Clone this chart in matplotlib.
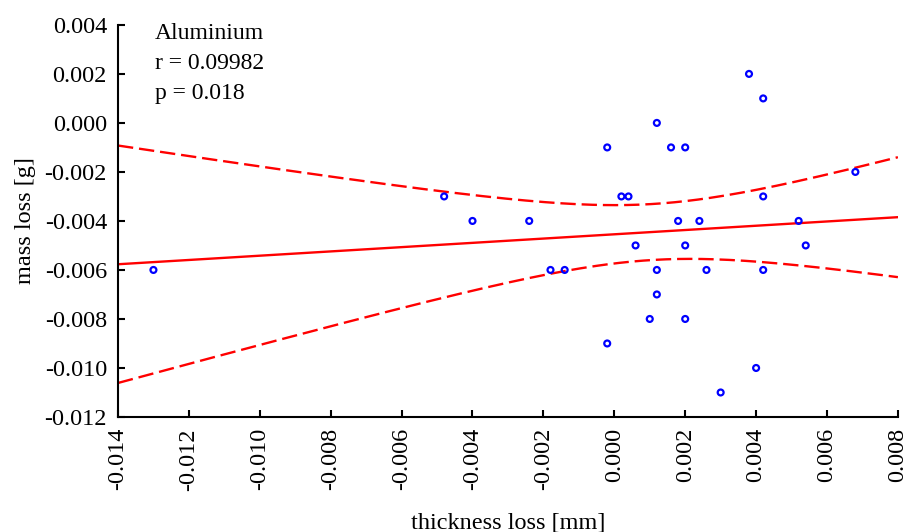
import matplotlib
matplotlib.use("Agg")
import matplotlib.pyplot as plt
import numpy as np

plt.rcParams['font.family'] = ['Liberation Serif', 'DejaVu Serif']

# thickness loss [mm] and mass loss [g]
thickness = [-0.013, -0.0048, -0.004, -0.0024, -0.0018, -0.0014, -0.0002, -0.0002,
             0.0002, 0.0004, 0.0006, 0.0012, 0.0012, 0.0012, 0.001, 0.0016,
             0.0018, 0.002, 0.002, 0.002, 0.0024, 0.0026, 0.003, 0.0038,
             0.004, 0.0042, 0.0042, 0.0042, 0.0052, 0.0054, 0.0068]
mass = [-0.006, -0.003, -0.004, -0.004, -0.006, -0.006, -0.001, -0.009,
        -0.003, -0.003, -0.005, 0.0, -0.006, -0.007, -0.008, -0.001,
        -0.004, -0.001, -0.005, -0.008, -0.004, -0.006, -0.011, 0.002,
        -0.010, 0.001, -0.003, -0.006, -0.004, -0.005, -0.002]

x = np.array(thickness)
y = np.array(mass)

# linear fit and 95% confidence band of the mean
n = len(x)
slope, intercept = np.polyfit(x, y, 1)
resid = y - (slope * x + intercept)
s = np.sqrt(np.sum(resid ** 2) / (n - 2))
sxx = np.sum((x - x.mean()) ** 2)
t = 2.045  # t(0.975, 29)

xs = np.linspace(-0.014, 0.008, 200)
ys = slope * xs + intercept
half = t * s * np.sqrt(1.0 / n + (xs - x.mean()) ** 2 / sxx)

fig = plt.figure(figsize=(9.09, 5.32), dpi=100)
ax = fig.add_axes([0.1298, 0.2162, 0.858, 0.737])

ax.plot(xs, ys, color='red', lw=1.7)
ax.plot(xs, ys + half, color='red', lw=1.7, ls=(0, (6.5, 2.5)))
ax.plot(xs, ys - half, color='red', lw=1.7, ls=(0, (6.5, 2.5)))
ax.scatter(x, y, s=18, facecolors='none', edgecolors='blue', linewidths=1.6, zorder=3)

ax.set_xlim(-0.014, 0.008)
ax.set_ylim(-0.012, 0.004)
ax.set_xticks(np.arange(-0.014, 0.0081, 0.002))
ax.set_yticks(np.arange(-0.012, 0.0041, 0.002))
ax.set_xticklabels([f"{v:.3f}" for v in np.arange(-0.014, 0.0081, 0.002)], rotation=90)
ax.set_yticklabels([f"{v:.3f}" for v in np.arange(-0.012, 0.0041, 0.002)])
ax.tick_params(direction='in', length=5, width=1.5, labelsize=17.5, pad=8)
for side in ['top', 'right']:
    ax.spines[side].set_visible(False)
for side in ['left', 'bottom']:
    ax.spines[side].set_linewidth(1.5)

ax.set_xlabel("thickness loss [mm]", fontsize=17.5, labelpad=16)
ax.set_ylabel("mass loss [g]", fontsize=17.5, labelpad=6)

ax.text(0.047, 1.005, "Aluminium\nr = 0.09982\np = 0.018", transform=ax.transAxes,
        fontsize=17, va='top', ha='left', linespacing=1.55)

fig.savefig("out.png", dpi=100)
